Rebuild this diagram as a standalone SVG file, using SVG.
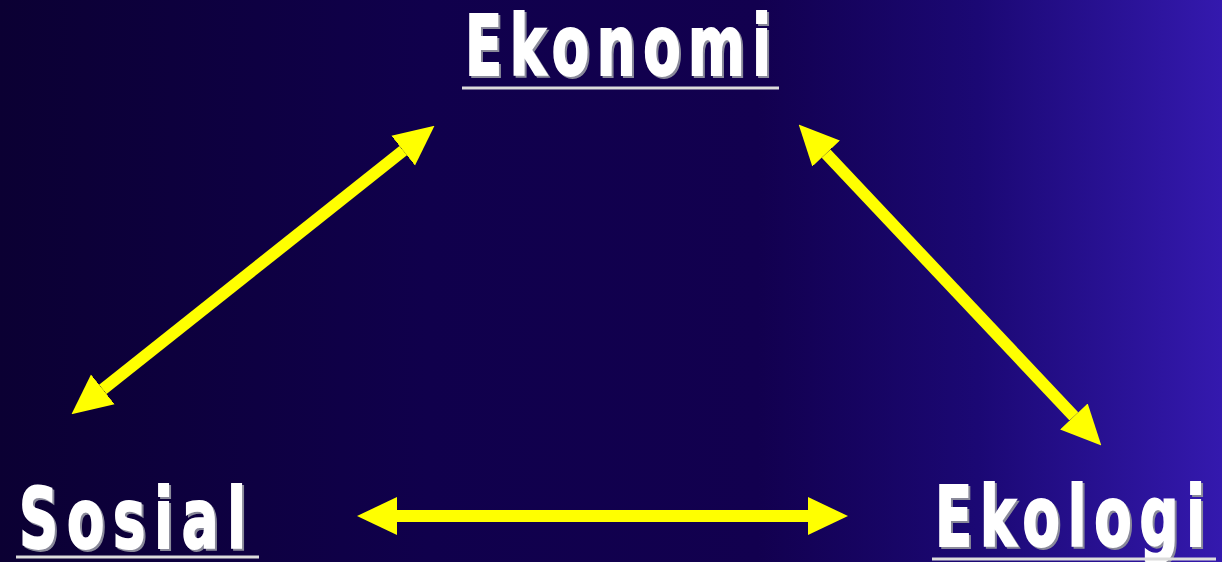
<svg xmlns="http://www.w3.org/2000/svg" width="1222" height="562" viewBox="0 0 1222 562">
<defs>
<linearGradient id="bg" x1="0" y1="0" x2="1" y2="0">
<stop offset="0" stop-color="#0b0033"/>
<stop offset="0.35" stop-color="#10004c"/>
<stop offset="0.62" stop-color="#12004f"/>
<stop offset="0.8" stop-color="#1b0874"/>
<stop offset="1" stop-color="#3419ae"/>
</linearGradient>
<marker id="head" markerUnits="userSpaceOnUse" markerWidth="40" markerHeight="40" refX="0" refY="18" orient="auto-start-reverse" viewBox="0 0 38 36">
<path d="M0,0 L38,18 L0,36 Z" fill="#ffff00"/>
</marker>
<style>
.lbl{font-family:"DejaVu Sans Condensed","DejaVu Sans","Liberation Sans",sans-serif;font-weight:bold;font-size:84px;}
.face{fill:#ffffff;stroke:#ffffff;stroke-width:2;}
.shadow{fill:#8a8a9a;stroke:#8a8a9a;stroke-width:2;}
.ul{stroke:#dcdcdc;stroke-width:3;}
.conn{stroke:#ffff00;stroke-width:12;fill:none;marker-start:url(#head);marker-end:url(#head);}
</style>
</defs>
<rect x="0" y="0" width="1222" height="562" fill="url(#bg)"/>
<g id="connectors">
<line class="conn" x1="403.2" y1="150.6" x2="102.8" y2="389.4"/>
<line class="conn" x1="826.1" y1="153.6" x2="1073.9" y2="416.4"/>
<line class="conn" x1="397" y1="516" x2="808" y2="516"/>
</g>
<g id="ekonomi">
<text class="lbl shadow" transform="translate(467,77) scale(0.72,1)" textLength="425" lengthAdjust="spacing">Ekonomi</text>
<text class="lbl face" transform="translate(465,75) scale(0.72,1)" textLength="425" lengthAdjust="spacing">Ekonomi</text>
<line class="ul" x1="462" y1="88" x2="779" y2="88"/>
</g>
<g id="sosial">
<text class="lbl shadow" transform="translate(21,550) scale(0.72,1)" textLength="315" lengthAdjust="spacing">Sosial</text>
<text class="lbl face" transform="translate(19,548) scale(0.72,1)" textLength="315" lengthAdjust="spacing">Sosial</text>
<line class="ul" x1="16" y1="557" x2="259" y2="557"/>
</g>
<g id="ekologi">
<text class="lbl shadow" transform="translate(937,548) scale(0.72,1)" textLength="375" lengthAdjust="spacing">Ekologi</text>
<text class="lbl face" transform="translate(935,546) scale(0.72,1)" textLength="375" lengthAdjust="spacing">Ekologi</text>
<line class="ul" x1="932" y1="559" x2="1216" y2="559"/>
</g>
</svg>
